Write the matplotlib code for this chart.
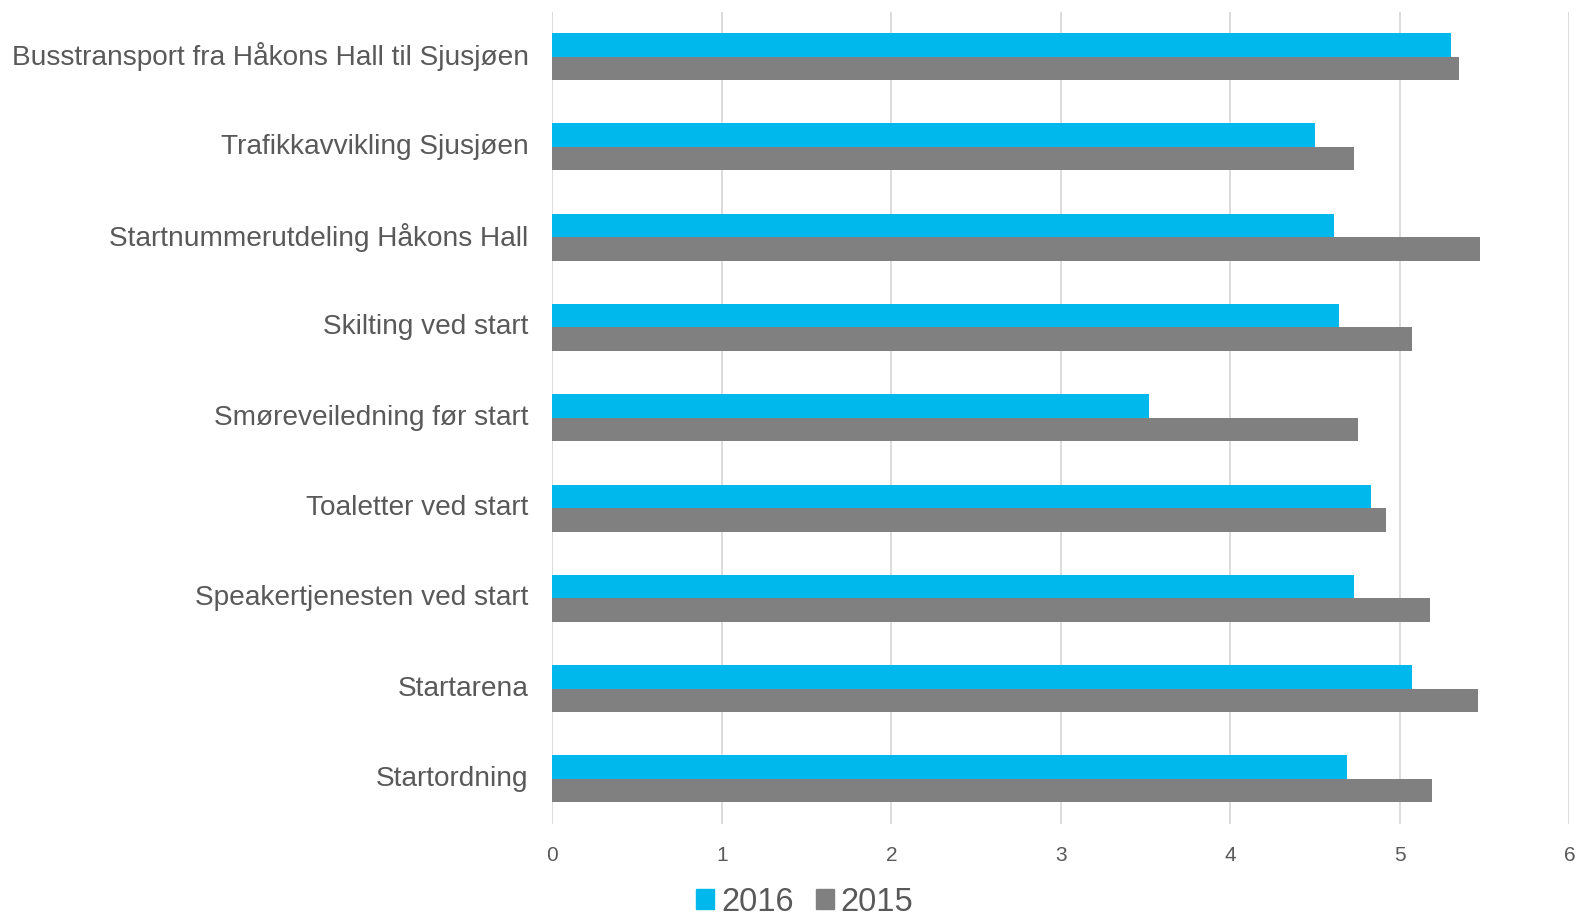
import numpy as np
import matplotlib
matplotlib.use('Agg')
import matplotlib.pyplot as plt
from matplotlib.patches import Patch

# Data (top to bottom)
categories = [
    'Busstransport fra Håkons Hall til Sjusjøen',
    'Trafikkavvikling Sjusjøen',
    'Startnummerutdeling Håkons Hall',
    'Skilting ved start',
    'Smøreveiledning før start',
    'Toaletter ved start',
    'Speakertjenesten ved start',
    'Startarena',
    'Startordning',
]
vals_2016 = [5.30, 4.50, 4.61, 4.64, 3.52, 4.83, 4.73, 5.07, 4.69]
vals_2015 = [5.35, 4.73, 5.47, 5.07, 4.75, 4.92, 5.18, 5.46, 5.19]
series_names = ['2016', '2015']
xticks = [0, 1, 2, 3, 4, 5, 6]

col_2016 = '#00B8EB'
col_2015 = '#808080'
txt = '#595959'

plt.rcParams['font.family'] = ['Liberation Sans', 'DejaVu Sans']

fig = plt.figure(figsize=(15.78, 9.21), dpi=100)
ax = fig.add_axes([0.350, 0.1053, 0.6446, 0.8822])

y = np.arange(len(categories))
h = 0.26
ax.barh(y - h / 2, vals_2016, height=h, color=col_2016, zorder=3)
ax.barh(y + h / 2, vals_2015, height=h, color=col_2015, zorder=3)

ax.set_ylim(len(categories) - 0.5, -0.5)
ax.set_xlim(0, 6)
ax.set_xticks(xticks)
ax.set_yticks(y)
ax.set_yticklabels(categories, fontsize=20.2, color=txt, va='center')
ax.tick_params(axis='x', length=0, pad=16, labelsize=15, labelcolor=txt)
ax.tick_params(axis='y', length=0, pad=17)
ax.grid(axis='x', color='#D9D9D9', linewidth=1.3, zorder=0)
for s in ax.spines.values():
    s.set_visible(False)

handles = [Patch(color=col_2016), Patch(color=col_2015)]
fig.legend(handles, series_names, loc='center', bbox_to_anchor=(805 / 1578, 1 - 902 / 921),
           ncol=2, frameon=False, fontsize=23.5, labelcolor=txt,
           handlelength=0.55, handleheight=0.55, handletextpad=0.2, columnspacing=0.7,
           borderpad=0.1)

fig.savefig('out.png', dpi=100)
